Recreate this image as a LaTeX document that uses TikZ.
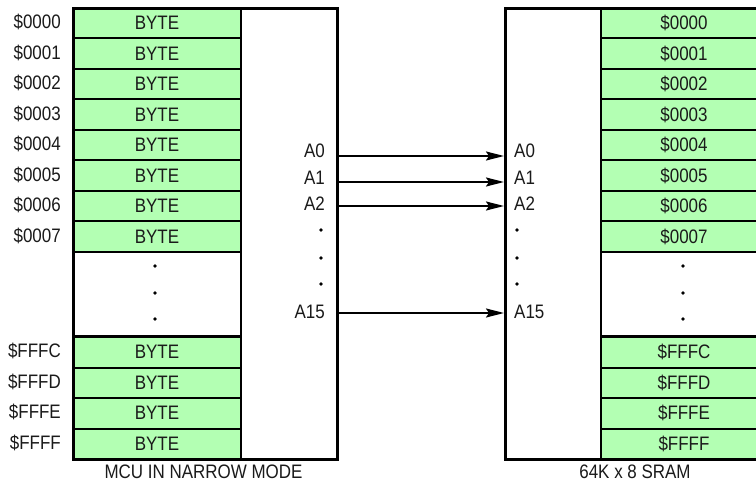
\documentclass[tikz,border=0pt]{standalone}
\usepackage{fontspec}
\setmainfont{Liberation Sans}[FakeStretch=0.87]
\usetikzlibrary{arrows.meta}
\definecolor{cellgreen}{HTML}{B3FFB3}
\definecolor{txt}{HTML}{1A1A1A}
\begin{document}
\begin{tikzpicture}[x=1pt,y=-1pt,
  font=\fontsize{19.5}{22}\selectfont,
  every node/.style={text=txt},
  lcell/.style={draw=black, line width=2pt, fill=cellgreen, minimum width=168pt, minimum height=30.5pt, inner sep=0pt, anchor=north west},
  rcell/.style={draw=black, line width=2pt, fill=cellgreen, minimum width=166pt, minimum height=30.5pt, inner sep=0pt, anchor=north west},
  gapbox/.style={draw=black, line width=2pt, minimum width=168pt, minimum height=84pt, inner sep=0pt, anchor=north west},
  rgapbox/.style={draw=black, line width=2pt, minimum width=166pt, minimum height=84pt, inner sep=0pt, anchor=north west},
  chip/.style={draw=black, line width=3pt, inner sep=0pt, anchor=north west},
  addr/.style={anchor=east, inner sep=0pt},
  pinl/.style={anchor=base east, inner sep=0pt},
  pinr/.style={anchor=base west, inner sep=0pt},
  bus/.style={line width=2pt, -{Stealth[length=18pt,width=9pt,inset=3pt]}},
  dotmark/.style={circle, fill=black, inner sep=0pt, minimum size=3.6pt}
]
\useasboundingbox (0,0) rectangle (756,484);
\clip (0,0) rectangle (756,484);
\fill[white] (0,0) rectangle (756,484);

% ---------- left: MCU ----------
\foreach \i/\a in {0/0000,1/0001,2/0002,3/0003,4/0004,5/0005,6/0006,7/0007}{
  \node[lcell] (lc\i) at (72,{7+30.5*\i}) {BYTE};
  \node[addr] (la\i) at (61,{7+30.5*\i+15.25}) {\$\a};
}
\node[gapbox] (lgap) at (72,251) {};
\foreach \i/\a in {0/FFFC,1/FFFD,2/FFFE,3/FFFF}{
  \node[lcell] (lcc\i) at (72,{336+30.5*\i}) {BYTE};
  \node[addr] (laa\i) at (61,{336+30.5*\i+15.25}) {\$\a};
}
\node[dotmark] (ld1) at (155,266) {};
\node[dotmark] (ld2) at (155,293) {};
\node[dotmark] (ld3) at (155,319) {};
\node[chip, minimum width=264pt, minimum height=451pt] (mcu) at (72,7) {};

% ---------- right: SRAM ----------
\foreach \i/\a in {0/0000,1/0001,2/0002,3/0003,4/0004,5/0005,6/0006,7/0007}{
  \node[rcell] (rc\i) at (600,{7+30.5*\i}) {\$\a};
}
\node[rgapbox] (rgap) at (600,251) {};
\foreach \i/\a in {0/FFFC,1/FFFD,2/FFFE,3/FFFF}{
  \node[rcell] (rcc\i) at (600,{336+30.5*\i}) {\$\a};
}
\node[dotmark] (rd1) at (683,266) {};
\node[dotmark] (rd2) at (683,293) {};
\node[dotmark] (rd3) at (683,319) {};
\node[chip, minimum width=264pt, minimum height=451pt] (sram) at (504,7) {};

% ---------- pin labels ----------
\node[pinl] (pa0) at (325,158) {A0};
\node[pinl] (pa1) at (325,185) {A1};
\node[pinl] (pa2) at (325,211) {A2};
\node[pinl] (pa15) at (325,318) {A15};
\node[dotmark] (pd1) at (321,230) {};
\node[dotmark] (pd2) at (321,258) {};
\node[dotmark] (pd3) at (321,284) {};

\node[pinr] (qa0) at (514,158) {A0};
\node[pinr] (qa1) at (514,185) {A1};
\node[pinr] (qa2) at (514,211) {A2};
\node[pinr] (qa15) at (514,318) {A15};
\node[dotmark] (qd1) at (517,230) {};
\node[dotmark] (qd2) at (517,258) {};
\node[dotmark] (qd3) at (517,284) {};

% ---------- address bus ----------
\coordinate (s0) at (336,156);  \coordinate (e0) at (504,156);
\coordinate (s1) at (336,182);  \coordinate (e1) at (504,182);
\coordinate (s2) at (336,206);  \coordinate (e2) at (504,206);
\coordinate (s15) at (336,313); \coordinate (e15) at (504,313);
\draw[bus] (s0) -- (e0);
\draw[bus] (s1) -- (e1);
\draw[bus] (s2) -- (e2);
\draw[bus] (s15) -- (e15);

% ---------- captions ----------
\node (cap1) at (203.5,472) {MCU IN NARROW MODE};
\node (cap2) at (635,472) {64K x 8 SRAM};
\end{tikzpicture}
\end{document}
